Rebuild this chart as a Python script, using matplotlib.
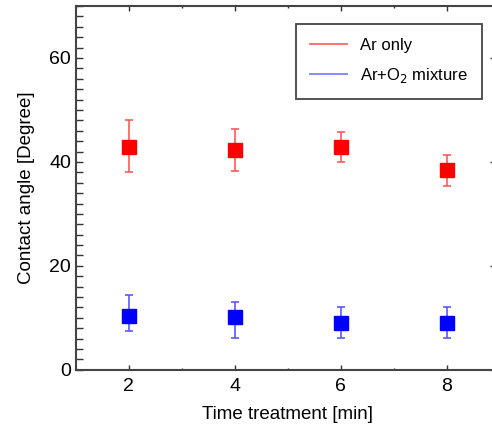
import matplotlib.pyplot as plt
from matplotlib.lines import Line2D
from matplotlib.ticker import MultipleLocator

plt.rcParams['font.family'] = ['Liberation Sans', 'DejaVu Sans']

time_min = [2, 4, 6, 8]

ar_only = [42.9, 42.2, 42.9, 38.5]
ar_only_hi = [48.1, 46.3, 45.8, 41.3]
ar_only_lo = [38.0, 38.3, 39.9, 35.3]

ar_o2 = [10.4, 10.1, 9.1, 9.1]
ar_o2_hi = [14.4, 13.1, 12.0, 12.0]
ar_o2_lo = [7.4, 6.1, 6.1, 6.1]


def err(vals, lo, hi):
    return [[v - l for v, l in zip(vals, lo)], [h - v for v, h in zip(vals, hi)]]


fig = plt.figure(figsize=(4.92, 4.30), dpi=100)
ax = fig.add_axes([0.154, 0.140, 0.862, 0.846])

ax.errorbar(time_min, ar_only, yerr=err(ar_only, ar_only_lo, ar_only_hi),
            fmt='none', ecolor=(1, 0.35, 0.35), elinewidth=1.2, capsize=2.8, capthick=1.2)
ax.errorbar(time_min, ar_o2, yerr=err(ar_o2, ar_o2_lo, ar_o2_hi),
            fmt='none', ecolor=(0.35, 0.35, 1), elinewidth=1.2, capsize=2.8, capthick=1.2)
ax.plot(time_min, ar_only, 's', color='#ff0000', markersize=10, linestyle='none', zorder=3)
ax.plot(time_min, ar_o2, 's', color='#0000ff', markersize=10, linestyle='none', zorder=3)

handles = [Line2D([], [], color=(1, 0.4, 0.4), lw=1.3, label='Ar only'),
           Line2D([], [], color=(0.5, 0.5, 1), lw=1.3, label='Ar+O$_2$ mixture')]
leg = ax.legend(handles=handles, loc='upper right', bbox_to_anchor=(0.958, 0.951),
                borderaxespad=0, fontsize=12, fancybox=False, edgecolor='#444444',
                framealpha=1, handlelength=2.2, handletextpad=0.8,
                borderpad=0.85, labelspacing=0.75)
leg.get_frame().set_linewidth(1.3)

ax.set_xlim(1, 9)
ax.set_ylim(0, 70)
ax.set_xticks(time_min)
ax.xaxis.set_minor_locator(MultipleLocator(1))
ax.set_yticks([0, 20, 40, 60])
ax.yaxis.set_minor_locator(MultipleLocator(2))

ax.tick_params(axis='both', which='both', direction='in', top=True, right=True,
               color='#333333', width=1)
ax.tick_params(axis='y', which='both', length=5, labelsize=14)
ax.tick_params(axis='x', which='major', length=3.5, labelsize=14, pad=6)
ax.tick_params(axis='x', which='minor', length=1.5)

for t in ax.yaxis.get_major_ticks():
    t.tick2line.set_markersize(7)

for s in ax.spines.values():
    s.set_linewidth(1.5)
    s.set_color('#444444')

ax.set_xlabel('Time treatment [min]', fontsize=13.5, labelpad=8)
ax.set_ylabel('Contact angle [Degree]', fontsize=13.5, labelpad=10)

fig.savefig('out.png', dpi=100)
